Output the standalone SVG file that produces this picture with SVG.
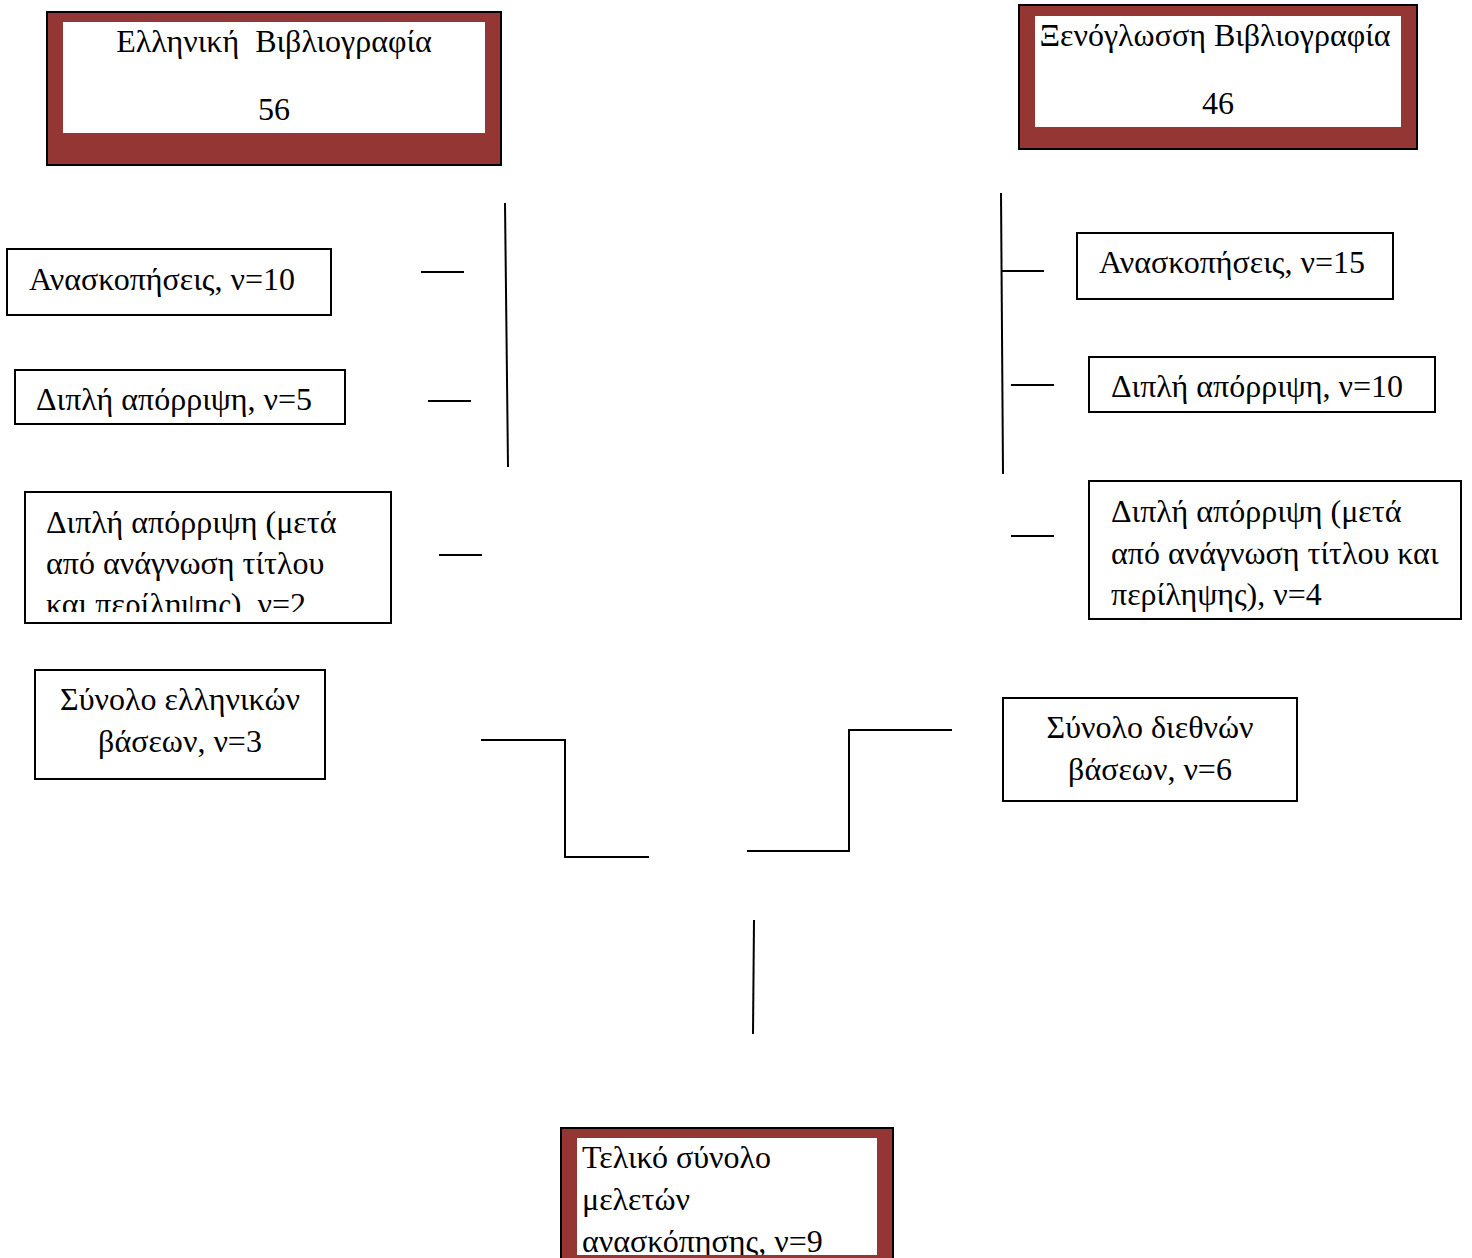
<svg xmlns="http://www.w3.org/2000/svg" width="1472" height="1258" viewBox="0 0 1472 1258">
<style>
  text { font-family: "Liberation Serif", "Times New Roman", serif; font-size: 32px; fill: #000; }
  .box { fill: #fff; stroke: #000; stroke-width: 2; }
  .outer { fill: #943634; stroke: #000; stroke-width: 2; }
  .inner { fill: #fff; stroke: none; }
  .conn { fill: none; stroke: #000; stroke-width: 2; }
  .c { text-anchor: middle; }
</style>
<defs>
  <clipPath id="clipL3"><rect x="26" y="493" width="364" height="119"/></clipPath>
  <clipPath id="clipFinal"><rect x="577" y="1138" width="300" height="117"/></clipPath>
</defs>
<rect width="1472" height="1258" fill="#fff"/>

<g id="greek-bib">
  <rect class="outer" x="47" y="12" width="454" height="153"/>
  <rect class="inner" x="63" y="22" width="422" height="111"/>
  <text class="c" x="274" y="52" xml:space="preserve">Ελληνική  Βιβλιογραφία</text>
  <text class="c" x="274" y="120">56</text>
</g>

<g id="foreign-bib">
  <rect class="outer" x="1019" y="5" width="398" height="144"/>
  <rect class="inner" x="1035" y="16" width="366" height="111"/>
  <text class="c" x="1215" y="46">Ξενόγλωσση Βιβλιογραφία</text>
  <text class="c" x="1218" y="114">46</text>
</g>

<g id="gr-reviews">
  <rect class="box" x="7" y="249" width="324" height="66"/>
  <text x="29" y="290">Ανασκοπήσεις, ν=10</text>
</g>

<g id="gr-dup">
  <rect class="box" x="15" y="370" width="330" height="54"/>
  <text x="36" y="410">Διπλή απόρριψη, ν=5</text>
</g>

<g id="gr-dup-title">
  <rect class="box" x="25" y="492" width="366" height="131"/>
  <g clip-path="url(#clipL3)">
    <text x="46" y="533">Διπλή απόρριψη (μετά</text>
    <text x="46" y="574">από ανάγνωση τίτλου</text>
    <text x="46" y="615">και περίληψης), ν=2</text>
  </g>
</g>

<g id="gr-total">
  <rect class="box" x="35" y="670" width="290" height="109"/>
  <text class="c" x="180" y="710">Σύνολο ελληνικών</text>
  <text class="c" x="180" y="752">βάσεων, ν=3</text>
</g>

<g id="fr-reviews">
  <rect class="box" x="1077" y="233" width="316" height="66"/>
  <text x="1099" y="273">Ανασκοπήσεις, ν=15</text>
</g>

<g id="fr-dup">
  <rect class="box" x="1089" y="357" width="346" height="55"/>
  <text x="1111" y="397">Διπλή απόρριψη, ν=10</text>
</g>

<g id="fr-dup-title">
  <rect class="box" x="1089" y="481" width="372" height="138"/>
  <text x="1111" y="522">Διπλή απόρριψη (μετά</text>
  <text x="1111" y="564">από ανάγνωση τίτλου και</text>
  <text x="1111" y="605">περίληψης), ν=4</text>
</g>

<g id="fr-total">
  <rect class="box" x="1003" y="698" width="294" height="103"/>
  <text class="c" x="1150" y="738">Σύνολο διεθνών</text>
  <text class="c" x="1150" y="780">βάσεων, ν=6</text>
</g>

<g id="final">
  <rect class="outer" x="561" y="1128" width="332" height="140"/>
  <rect class="inner" x="577" y="1138" width="300" height="117"/>
  <g clip-path="url(#clipFinal)">
    <text x="582" y="1168">Τελικό σύνολο</text>
    <text x="582" y="1210">μελετών</text>
    <text x="582" y="1252">ανασκόπησης, ν=9</text>
  </g>
</g>

<g id="connectors">
  <line class="conn" x1="421" y1="272" x2="464" y2="272"/>
  <line class="conn" x1="428" y1="401" x2="471" y2="401"/>
  <line class="conn" x1="439" y1="555" x2="482" y2="555"/>
  <line class="conn" x1="505" y1="203" x2="508" y2="467"/>
  <line class="conn" x1="1001" y1="193" x2="1003" y2="474"/>
  <line class="conn" x1="1001" y1="271" x2="1044" y2="271"/>
  <line class="conn" x1="1011" y1="385" x2="1054" y2="385"/>
  <line class="conn" x1="1011" y1="536" x2="1054" y2="536"/>
  <polyline class="conn" points="481,740 565,740 565,857 649,857"/>
  <polyline class="conn" points="747,851 849,851 849,730 952,730"/>
  <line class="conn" x1="754" y1="920" x2="753" y2="1034"/>
</g>
</svg>
